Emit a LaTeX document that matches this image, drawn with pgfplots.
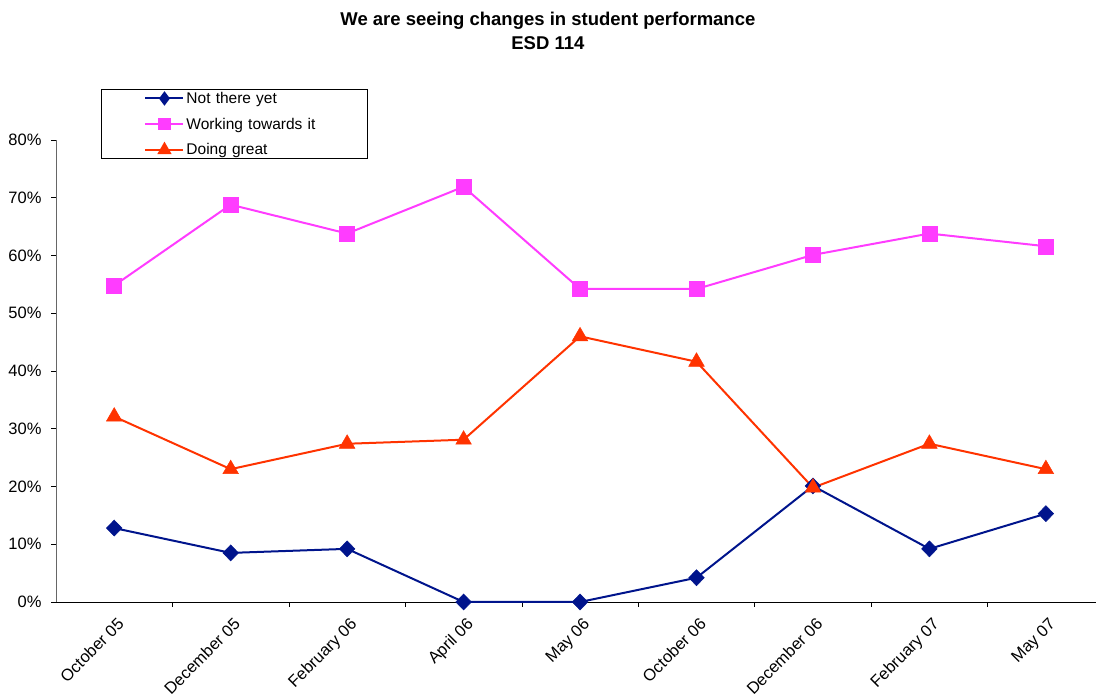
\documentclass[border=0pt]{standalone}
\usepackage{fontspec}
\setmainfont{Liberation Sans}
\usepackage{pgfplots}
\pgfplotsset{compat=1.18}
\definecolor{navyline}{RGB}{0,20,140}
\definecolor{pinkline}{RGB}{255,60,255}
\definecolor{redline}{RGB}{255,51,0}

\begin{document}
\begin{tikzpicture}
\useasboundingbox (-56pt,-98pt) rectangle (1040pt,602pt);
\begin{axis}[
	scale only axis,
	width=1040pt, height=462pt,
	xmin=-0.5, xmax=8.43,
	ymin=0, ymax=80,
	clip=false,
	axis lines*=left,
	x axis line style={black, line width=0.9pt},
	y axis line style={black!60, line width=0.9pt},
	xtick={0,...,8},
	xticklabels={October 05, December 05, February 06, April 06, May 06, October 06, December 06, February 07, May 07},
	major x tick style={draw=none},
	minor xtick={0.5,1.5,...,8.5},
	minor x tick style={black, line width=0.6pt},
	minor tick length=5pt,
	ytick={0,10,...,80},
	yticklabels={0\%,10\%,20\%,30\%,40\%,50\%,60\%,70\%,80\%},
	y tick style={black, line width=0.6pt},
	major tick length=5pt,
	tick align=outside,
	tick label style={font=\fontsize{16.5}{19}\selectfont},
	x tick label style={rotate=45, anchor=north east, xshift=-2pt, yshift=-5pt},
	y tick label style={xshift=-6pt},
	legend cell align=left,
	legend style={at={(axis description cs:0.0433,1.11)}, anchor=north west,
		draw=black, line width=0.9pt, font=\fontsize{15.5}{18}\selectfont,
		row sep=10pt, inner ysep=1pt,
		nodes={text width=176pt, inner ysep=1.5pt}},
	legend image code/.code={
		\path (-40pt,0pt);
		\draw[mark repeat=2,mark phase=2,mark options={scale=0.7},#1] plot coordinates {(0pt,0pt)(19pt,0pt)(38pt,0pt)};
	},
	every axis plot/.append style={line width=2pt},
]
\addplot[color=navyline, mark=diamond*, mark size=8pt, mark options={solid, line width=0.5pt, xscale=1.3}] coordinates {
	(0,12.8) (1,8.5) (2,9.2) (3,0) (4,0) (5,4.2) (6,20.1) (7,9.2) (8,15.3)};
\addplot[color=pinkline, mark=square*, mark size=7.5pt, mark options={solid, line width=0.5pt}] coordinates {
	(0,54.8) (1,68.8) (2,63.8) (3,71.9) (4,54.2) (5,54.2) (6,60.1) (7,63.8) (8,61.6)};
\addplot[color=redline, mark=triangle*, mark size=9pt, mark options={solid, line width=0.5pt}] coordinates {
	(0,32.1) (1,23.0) (2,27.4) (3,28.1) (4,46.0) (5,41.6) (6,19.8) (7,27.4) (8,23.0)};
\legend{Not there yet, Working towards it, Doing great}
\node[align=center, font=\bfseries\fontsize{18.5}{24}\selectfont] at (axis description cs:0.473,1) [yshift=109pt] {We are seeing changes in student performance\\ESD 114};
\end{axis}
\end{tikzpicture}
\end{document}
